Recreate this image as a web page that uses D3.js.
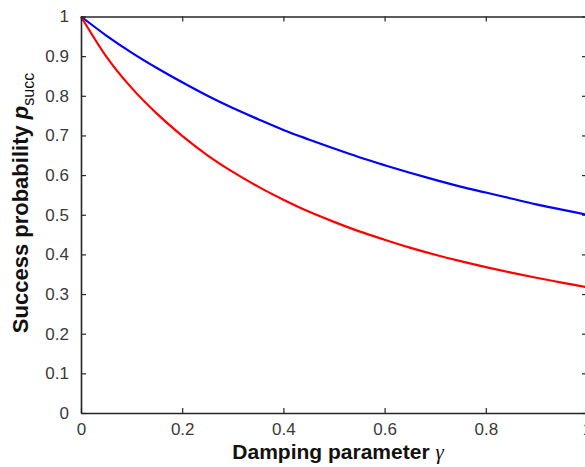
<!DOCTYPE html>
<html>
<head>
<meta charset="utf-8">
<script src="https://cdn.jsdelivr.net/npm/d3@7"></script>
<style>
  html, body { margin: 0; padding: 0; background: #fff; }
  svg { display: block; }
</style>
</head>
<body>
<svg id="chart" width="585" height="467"></svg>
<script>
// ---- data ----
const gamma = [0, 0.05, 0.1, 0.15, 0.2, 0.25, 0.3, 0.35, 0.4, 0.45, 0.5,
               0.55, 0.6, 0.65, 0.7, 0.75, 0.8, 0.85, 0.9, 0.95, 1];
const blueValues = [1, 0.952, 0.909, 0.870, 0.834, 0.800, 0.769, 0.741, 0.714, 0.690, 0.667,
                    0.645, 0.625, 0.606, 0.588, 0.571, 0.556, 0.541, 0.526, 0.513, 0.500];
const redValues  = [1, 0.899, 0.820, 0.755, 0.699, 0.650, 0.608, 0.571, 0.538, 0.508, 0.482,
                    0.458, 0.437, 0.417, 0.399, 0.383, 0.368, 0.354, 0.341, 0.329, 0.317];
const xTicks = [0, 0.2, 0.4, 0.6, 0.8, 1];
const xTickLabels = ["0", "0.2", "0.4", "0.6", "0.8", "1"];
const yTicks = [0, 0.1, 0.2, 0.3, 0.4, 0.5, 0.6, 0.7, 0.8, 0.9, 1];
const yTickLabels = ["0", "0.1", "0.2", "0.3", "0.4", "0.5", "0.6", "0.7", "0.8", "0.9", "1"];

// ---- layout ----
const svg = d3.select("#chart");
const plotLeft = 81, plotRight = 587, plotTop = 16.5, plotBottom = 413;
const x = d3.scaleLinear().domain([0, 1]).range([plotLeft, plotRight]);
const y = d3.scaleLinear().domain([0, 1]).range([plotBottom, plotTop]);

const axisColor = "#262626";
const tickFont = "'Liberation Sans', Arial, sans-serif";

const fmtX = (d) => xTickLabels[xTicks.indexOf(d)];
const fmtY = (d) => yTickLabels[yTicks.indexOf(d)];

const xAxisB = d3.axisBottom(x).tickValues(xTicks).tickFormat(fmtX).tickSizeInner(-5).tickSizeOuter(0).tickPadding(10);
const xAxisT = d3.axisTop(x).tickValues(xTicks).tickFormat("").tickSizeInner(-5).tickSizeOuter(0);
const yAxisL = d3.axisLeft(y).tickValues(yTicks).tickFormat(fmtY).tickSizeInner(-5).tickSizeOuter(0).tickPadding(12);
const yAxisR = d3.axisRight(y).tickValues(yTicks).tickFormat("").tickSizeInner(-5).tickSizeOuter(0);

function style(g) {
  g.select(".domain").attr("stroke", axisColor).attr("stroke-width", 1.6);
  g.selectAll(".tick line").attr("stroke", axisColor).attr("stroke-width", 1.2);
  g.selectAll(".tick text").attr("fill", "#3a3a3a")
    .attr("font-family", tickFont).attr("font-size", 17);
}

// curves
const line = d3.line().x((d) => x(d[0])).y((d) => y(d[1])).curve(d3.curveMonotoneX);
svg.append("path").datum(gamma.map((g, i) => [g, blueValues[i]]))
  .attr("d", line).attr("fill", "none").attr("stroke", "#0000ff").attr("stroke-width", 2.2);
svg.append("path").datum(gamma.map((g, i) => [g, redValues[i]]))
  .attr("d", line).attr("fill", "none").attr("stroke", "#ff0000").attr("stroke-width", 2.2);

svg.append("g").attr("transform", `translate(0,${plotBottom})`).call(xAxisB).call(style);
svg.append("g").attr("transform", `translate(0,${plotTop})`).call(xAxisT).call(style);
svg.append("g").attr("transform", `translate(${plotLeft},0)`).call(yAxisL).call(style);
svg.append("g").attr("transform", `translate(${plotRight},0)`).call(yAxisR).call(style);

// x label
const xl = svg.append("text")
  .attr("x", 338).attr("y", 459)
  .attr("text-anchor", "middle")
  .style("font-family", tickFont).style("font-size", "21px").style("font-weight", "bold")
  .attr("fill", "#111");
xl.append("tspan").text("Damping parameter ");
xl.append("tspan").text("γ")
  .style("font-family", "'Liberation Serif', 'Times New Roman', serif")
  .style("font-style", "italic").style("font-weight", "normal").style("font-size", "21px");

// y label
const yl = svg.append("text")
  .attr("transform", `translate(28,203) rotate(-90)`)
  .attr("text-anchor", "middle")
  .style("font-family", tickFont).style("font-size", "22px").style("font-weight", "bold")
  .attr("fill", "#111");
yl.append("tspan").text("Success probability ");
yl.append("tspan").text("p").style("font-style", "italic");
yl.append("tspan").text("succ").attr("dy", 6)
  .style("font-weight", "normal").style("font-size", "16px");
</script>
</body>
</html>
